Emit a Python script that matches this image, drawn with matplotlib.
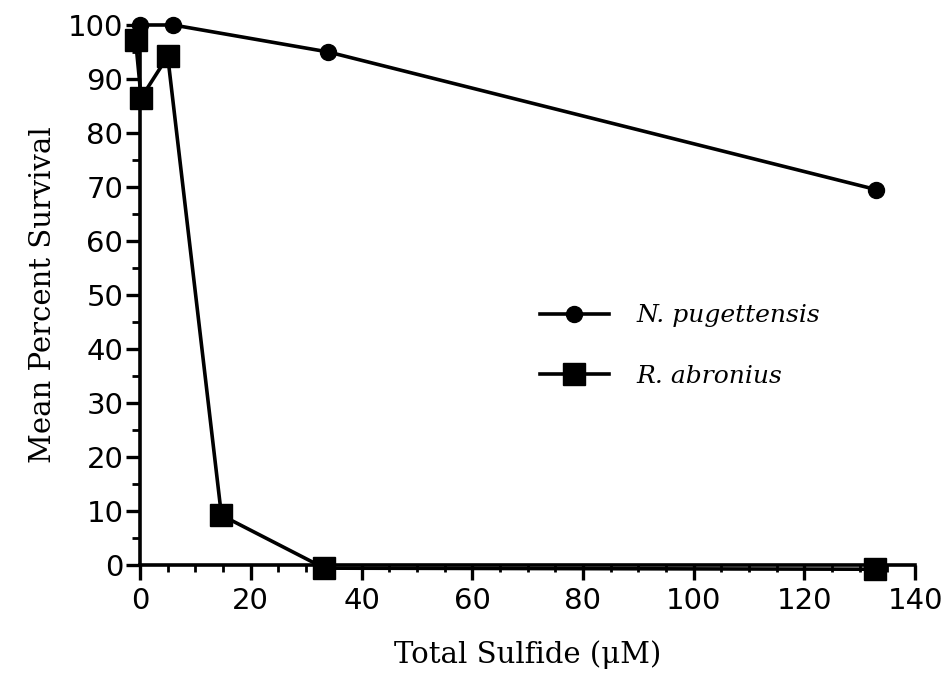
import matplotlib
matplotlib.use("Agg")
import matplotlib.pyplot as plt
from matplotlib.ticker import MultipleLocator

# sulfide concentration (uM) and mean percent survival
npug_x = [0, 6, 34, 133]
npug_y = [100, 100, 95, 69.5]

rabr_x = [-0.8, 0.2, 5, 14.7, 33.3, 132.8]
rabr_y = [97.2, 86.5, 94.2, 9.2, -0.6, -0.8]

xticks = [0, 20, 40, 60, 80, 100, 120, 140]
yticks = [0, 10, 20, 30, 40, 50, 60, 70, 80, 90, 100]

serif = ["DejaVu Serif", "Liberation Serif"]
sans = ["DejaVu Sans", "Liberation Sans"]

fig = plt.figure(figsize=(9.43, 6.94), dpi=100)
ax = fig.add_axes([0.1485, 0.186, 0.822, 0.778])

ax.plot(npug_x, npug_y, color="black", lw=2.6, marker="o", ms=11.5,
        clip_on=False, zorder=3, label="N. pugettensis")
ax.plot(rabr_x, rabr_y, color="black", lw=2.6, marker="s", ms=16,
        clip_on=False, zorder=4, label="R. abronius")

ax.set_xlim(0, 140)
ax.set_ylim(0, 100)
ax.set_xticks(xticks)
ax.set_yticks(yticks)
ax.xaxis.set_minor_locator(MultipleLocator(5))
ax.yaxis.set_minor_locator(MultipleLocator(5))

for s in ["top", "right"]:
    ax.spines[s].set_visible(False)
for s in ["left", "bottom"]:
    ax.spines[s].set_linewidth(2.6)

ax.tick_params(axis="x", which="major", direction="out", length=11, width=2.4, pad=5)
ax.tick_params(axis="x", which="minor", direction="out", length=5, width=2)
ax.tick_params(axis="y", which="major", direction="out", length=10, width=2.4, pad=2)
ax.tick_params(axis="y", which="minor", direction="out", length=6, width=2)

for lab in ax.get_xticklabels() + ax.get_yticklabels():
    lab.set_fontfamily(sans)
    lab.set_fontsize(21)

ax.set_xlabel("Total Sulfide (\u03bcM)", fontfamily=serif, fontsize=21, labelpad=18)
ax.set_ylabel("Mean Percent Survival", fontfamily=serif, fontsize=21, labelpad=8)

leg = ax.legend(loc="center left", bbox_to_anchor=(0.516, 0.405), frameon=False,
                prop={"family": serif, "style": "italic", "size": 18},
                handlelength=2.75, labelspacing=1.5, handletextpad=1.1,
                borderpad=0, borderaxespad=0)

fig.savefig("out.png", dpi=100)
